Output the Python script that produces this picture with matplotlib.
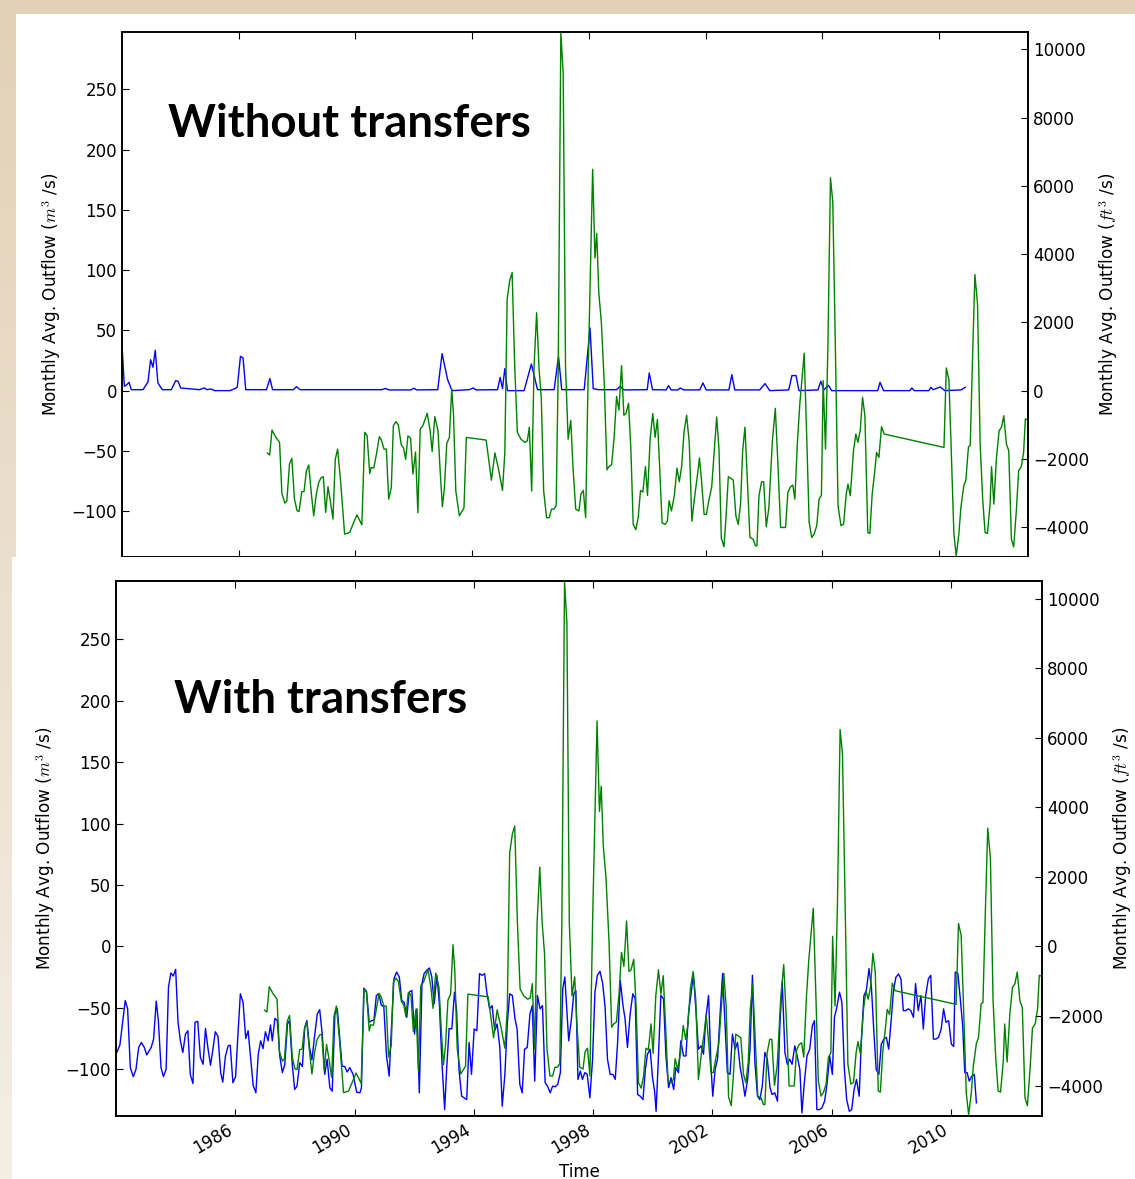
import numpy as np
import matplotlib
matplotlib.use("Agg")
import matplotlib.pyplot as plt
from matplotlib.patches import Rectangle

plt.rcParams['mathtext.fontset'] = 'cm'
plt.rcParams['font.family'] = ['DejaVu Sans']

# ---------------- data (decimal year, m3/s) ----------------
green_t = [1986.98,1987.06,1987.14,1987.26,1987.40,1987.48,1987.58,1987.65,1987.74,1987.82,1987.91,1988.00,1988.07,1988.16,1988.24,1988.32,1988.40,1988.49,1988.57,1988.66,1988.74,1988.83,1988.90,1988.98,1989.06,1989.14,1989.23,1989.31,1989.39,1989.49,1989.63,1989.80,1990.05,1990.22,1990.32,1990.40,1990.49,1990.54,1990.63,1990.72,1990.82,1990.89,1990.98,1991.06,1991.14,1991.23,1991.30,1991.39,1991.47,1991.57,1991.65,1991.72,1991.80,1991.89,1991.97,1992.06,1992.14,1992.22,1992.31,1992.46,1992.56,1992.63,1992.72,1992.83,1992.91,1992.98,1993.05,1993.13,1993.22,1993.30,1993.36,1993.44,1993.56,1993.72,1993.80,1994.48,
           1994.66,1994.78,1994.91,1995.04,1995.12,1995.20,1995.29,1995.37,1995.46,1995.55,1995.67,1995.81,1995.89,1995.96,1996.04,1996.12,1996.21,1996.29,1996.37,1996.45,1996.55,1996.64,1996.72,1996.80,1996.88,1996.95,1997.04,1997.12,1997.20,1997.29,1997.38,1997.46,1997.55,1997.66,1997.73,1997.81,1997.89,1997.98,1998.13,1998.21,1998.27,1998.34,1998.43,1998.53,1998.62,1998.69,1998.78,1998.87,1998.95,1999.03,1999.12,1999.20,1999.27,1999.36,1999.44,1999.52,1999.61,1999.69,1999.77,1999.85,1999.94,2000.01,2000.10,2000.19,2000.27,2000.35,2000.43,2000.51,2000.61,2000.69,2000.75,2000.83,2000.93,2001.02,2001.10,2001.18,2001.26,2001.35,2001.44,2001.53,2001.63,2001.73,2001.79,2001.86,2001.95,2002.03,2002.11,2002.21,2002.30,2002.38,2002.46,2002.54,2002.63,2002.70,2002.78,2002.87,2002.95,2003.04,2003.12,2003.20,2003.27,2003.35,
           2003.52,2003.63,2003.71,2003.76,2003.83,2003.92,2003.99,2004.08,2004.17,2004.29,2004.39,2004.48,2004.57,2004.65,2004.74,2004.82,2004.91,2004.99,2005.06,2005.15,2005.23,2005.38,2005.47,2005.55,2005.64,2005.72,2005.81,2005.89,2005.97,2006.03,2006.11,2006.19,2006.28,2006.36,2006.45,2006.54,2006.64,2006.73,2006.82,2006.88,2006.96,2007.07,2007.15,2007.22,2007.30,2007.38,2007.46,2007.56,2007.63,2007.71,2007.80,2007.86,2007.94,2008.03,2008.12,2010.17,2010.25,2010.34,2010.42,2010.51,2010.59,2010.68,2010.75,2010.85,2010.92,2011.01,2011.07,2011.15,2011.23,2011.32,2011.41,2011.50,2011.58,2011.66,2011.75,2011.80,2011.88,2011.97,2012.06,2012.14,2012.22,2012.31,2012.39,2012.48,2012.56,2012.65,2012.73,2012.82,2012.90,2012.96,2013.05]
green_v = [-51.8,-53.4,-32.7,-38.2,-42.9,-85.3,-93.3,-91.4,-60.9,-56.2,-90,-99.7,-100.2,-83.9,-83.6,-66.4,-61.7,-85.8,-103.8,-85.8,-76.1,-72,-71.4,-101,-79.7,-91.4,-106.6,-56.8,-48.5,-74.8,-119,-117.7,-103,-111.3,-34.6,-37.4,-68.7,-63.7,-64.2,-52.6,-38.2,-41,-48.5,-48.5,-90,-80.3,-29.1,-25.7,-28.5,-44.9,-47.6,-57,-37.6,-39.3,-69.2,-50.9,-101.3,-31.8,-29.1,-18.8,-33.2,-50.4,-21.6,-33.2,-69.2,-96.3,-80.3,-43.8,-38.8,1.4,-19.4,-83,-103.8,-97.4,-38.8,-41,
           -74.3,-51.6,-65.7,-82.8,-51.6,76,91.5,98,19.3,-34.6,-40.2,-43,-41.7,-30.3,-83.3,19.3,64.6,19.3,-6.2,-82.8,-105.4,-105.4,-98.3,-98.3,-95.5,19.3,297,263,19.3,-40.2,-24.7,-65.7,-98.3,-99.8,-85.6,-82.8,-105.4,19.3,183.6,110,130.4,81.6,56,5,-65.7,-63,-61.5,-37.4,-4.8,-16.2,20.7,-20.4,-19,-10.5,-48.7,-111,-115.3,-105.4,-82.8,-84.2,-63,-87,-40.2,-19,-38.8,-23.8,-65.7,-109.7,-111,-108.3,-91.3,-99.8,-87,-64.3,-75.6,-63,-34.6,-20.4,-43,-108.3,-87,-68.6,-55.8,-74.3,-102.6,-102.6,-91.3,-79.9,-48.7,-21.8,-48.7,-122.4,-129.5,-105.4,-71.4,-72.8,-74.3,-104,-111,-94,-50.2,-30.3,
           -121.8,-123.2,-128.7,-128.7,-87.2,-75.6,-75.6,-113,-96.9,-41.5,-14.7,-60.9,-113.5,-113.5,-113.5,-84.4,-79.7,-78.4,-90,-41.5,-11.1,31,-41.5,-109.4,-121.8,-119,-112,-90,-86.7,8.3,-48.4,33.2,176.6,156.4,33.2,-95.5,-112,-110.7,-85.8,-77.5,-87.2,-49.8,-36,-42.9,-33.2,-5.5,-20.8,-117.7,-118.5,-85.8,-66.4,-51.2,-55.4,-29.9,-36,-47.1,18.8,8.9,-49.8,-119,-137,-119,-96.9,-78.9,-74.2,-46.5,-45.7,27.7,96.3,72,-44.3,-91.4,-117.7,-118.5,-94.1,-63.1,-94.1,-55.4,-33.2,-30.5,-20.8,-44.3,-49.8,-123.2,-129.6,-99.7,-66.4,-63.1,-51.2,-23.5,-24.4]

blue_top_t = [1982.0,1982.08,1982.17,1982.24,1982.32,1982.72,1982.89,1982.98,1983.06,1983.14,1983.23,1983.38,1983.69,1983.84,1983.92,1984.01,1984.66,1984.81,1984.92,1985.04,1985.18,1985.70,1985.87,1985.95,1986.06,1986.15,1986.24,1986.95,1987.07,1987.16,1987.87,1987.98,1988.10,1990.90,1991.03,1991.15,1991.90,1992.00,1992.10,1992.82,1992.97,1993.16,1993.31,1993.90,1994.04,1994.13,1994.87,1994.96,1995.04,1995.12,1995.21,1995.78,1996.03,1996.24,1996.81,1996.96,1997.07,1997.84,1998.04,1998.15,1998.32,1998.95,1999.07,1999.20,2000.00,2000.07,2000.18,2000.65,2000.73,2000.82,2001.05,2001.13,2001.25,2001.80,2001.91,2002.02,2002.80,2002.90,2003.00,2003.85,2004.04,2004.20,2004.85,2004.96,2005.10,2005.20,2005.85,2005.95,2006.05,2006.21,2006.32,2007.90,2007.98,2008.10,2009.00,2009.07,2009.15,2009.65,2009.72,2009.80,2010.04,2010.20,2010.75,2010.90]
blue_top_v = [38,3.6,5,6.9,0.8,0.8,7.2,25.7,19.4,33.5,6.4,0.8,0.8,8.3,7.8,2.2,0.8,2.2,0.8,1.4,0,0,1.7,2.8,28.5,27.1,0.8,0.8,10,0.8,0.8,3.3,0.8,0.8,1.8,0.6,0.6,2,0.6,0.8,30.7,9.1,0,0.8,2.2,0.6,0.8,11,1.7,18.3,0,0,22.1,0.8,0.8,28.5,0.8,0.8,52,1.7,0.8,0.8,3.6,0.6,0.8,14.7,0.8,0.6,4.2,0.6,0.6,2.2,0.6,0.6,6.4,0.6,0.6,13.3,0.6,0.6,5.8,0,0.6,12.5,12.5,0,0.6,7.8,0.6,4.4,0,0,6.9,0,0,2.2,0,0,2.8,0.8,3,0,0.6,2.8]

blue_bot_t = [1982.00,1982.13,1982.31,1982.39,1982.48,1982.58,1982.67,1982.76,1982.85,1982.95,1983.03,1983.18,1983.26,1983.35,1983.42,1983.51,1983.59,1983.68,1983.76,1983.84,1983.92,1984.00,1984.08,1984.16,1984.24,1984.33,1984.41,1984.49,1984.58,1984.65,1984.74,1984.83,1984.92,1985.00,1985.08,1985.17,1985.25,1985.33,1985.42,1985.51,1985.58,1985.67,1985.76,1985.83,1985.92,1986.01,1986.09,1986.17,1986.26,1986.35,1986.43,1986.52,1986.60,1986.69,1986.77,1986.85,1986.93,1987.01,1987.10,1987.18,1987.24,1987.33,1987.41,1987.49,1987.58,1987.66,1987.75,1987.82,1987.91,1987.99,1988.07,1988.16,1988.25,1988.33,1988.40,1988.49,1988.57,1988.66,1988.75,1988.83,1988.92,1989.00,1989.08,1989.17,1989.25,1989.34,1989.42,1989.51,1989.58,1989.67,1989.75,1989.84,1989.95,1990.07,1990.18,1990.23,1990.31,1990.40,1990.49,1990.57,1990.65,1990.73,1990.81,1990.90,1990.98,1991.07,1991.16,1991.24,1991.32,1991.41,1991.50,1991.58,1991.66,1991.75,1991.83,1991.92,1992.01,1992.09,1992.17,1992.26,1992.33,1992.42,1992.51,1992.59,1992.67,1992.76,1992.84,1992.93,1993.02,1993.09,1993.17,1993.26,1993.35,1993.42,1993.50,1993.59,1993.67,1993.76,1993.84,1993.92,1994.01,1994.10,1994.19,1994.28,1994.36,1994.44,1994.53,1994.61,1994.70,1994.78,1994.87,1994.95,1995.04,1995.12,1995.20,1995.29,1995.38,1995.45,1995.54,1995.62,1995.70,1995.79,1995.88,1995.96,1996.04,1996.13,1996.22,1996.30,1996.39,1996.47,1996.56,1996.64,1996.73,1996.81,1996.90,1996.98,1997.05,
              1997.18,1997.27,1997.35,1997.42,1997.49,1997.57,1997.64,1997.72,1997.80,1997.89,1997.98,1998.06,1998.14,1998.23,1998.32,1998.40,1998.48,1998.57,1998.66,1998.74,1998.82,1998.91,1999.00,1999.07,1999.15,1999.24,1999.33,1999.41,1999.49,1999.58,1999.67,1999.75,1999.82,1999.91,1999.99,2000.06,2000.11,2000.19,2000.27,2000.36,2000.44,2000.53,2000.61,2000.70,2000.77,2000.86,2000.94,2001.03,2001.11,2001.20,2001.29,2001.36,2001.45,2001.53,2001.62,2001.70,2001.78,2001.87,2001.95,2002.01,2002.09,2002.17,2002.26,2002.34,2002.43,2002.50,2002.59,2002.67,2002.76,2002.84,2002.93,2003.02,2003.09,2003.18,2003.26,2003.34,2003.42,2003.51,2003.59,2003.67,2003.76,2003.84,2003.93,2004.00,2004.09,2004.18,2004.26,2004.34,2004.43,2004.51,2004.59,2004.67,2004.76,2004.84,2004.93,2005.00,2005.08,2005.17,2005.26,2005.35,2005.42,2005.50,2005.59,2005.67,2005.76,2005.84,2005.93,2006.02,2006.09,2006.17,2006.26,2006.34,2006.42,2006.50,2006.59,2006.67,2006.75,2006.83,2006.92,2006.99,2007.08,2007.16,2007.25,2007.33,2007.41,2007.49,2007.58,2007.66,2007.75,2007.83,2007.91,2008.00,2008.07,2008.15,2008.24,2008.32,2008.40,2008.48,2008.57,2008.65,2008.74,2008.81,2008.90,2008.99,2009.07,2009.15,2009.24,2009.32,2009.41,2009.49,2009.58,2009.67,2009.75,2009.83,2009.92,2010.01,2010.09,2010.14,2010.23,2010.31,2010.39,2010.46,2010.54,2010.61,2010.70,2010.78,2010.85]
blue_bot_v = [-87.7,-80.3,-44,-50.8,-98.6,-106,-100,-82.2,-78.1,-82.2,-88.3,-82.2,-75.4,-44.5,-60.4,-98.6,-106,-100,-33.1,-21.6,-24.1,-18.6,-61.7,-76.8,-86.3,-71.3,-68.6,-104.1,-111.5,-61.7,-60.9,-90.4,-95.9,-66.7,-82.2,-96.7,-83.6,-69.4,-73.2,-102.7,-110.4,-89.1,-80.9,-80.3,-110.9,-106,-71.3,-38.5,-45.4,-74.9,-68.6,-91.8,-113.1,-119.1,-87.7,-76.8,-83.1,-69.4,-76.8,-63.9,-76.8,-58.5,-60.4,-89.1,-102.7,-95.9,-63.1,-60.4,-95.9,-116.4,-113.7,-94.5,-97.8,-65.8,-60.4,-82.2,-92.3,-72.7,-54.9,-51.4,-72.7,-104.1,-91.8,-115,-117.8,-54.9,-50.8,-76.8,-97.3,-97.8,-102.2,-98.6,-104.1,-118.6,-119.1,-115,-33.9,-36.6,-61.7,-60.4,-59.8,-39.9,-38.5,-48.1,-48.6,-89.1,-105.5,-64.4,-26.2,-20.8,-24.9,-44,-45.4,-57.7,-37.2,-35.8,-71.3,-50.8,-119.1,-30.3,-22.1,-19.4,-17.5,-24.9,-46.7,-23.5,-45.4,-94.5,-132.8,-98.6,-66.7,-67.2,-37.2,-52.2,-100,-121.9,-123.2,-124.6,-78.1,-104.1,-67.2,-68.6,-22.1,-23.5,-22.1,-38.5,-50.8,-48.1,-68.6,-63.1,-82.2,-130,-104.1,-63.1,-38.5,-39.9,-59,-67.2,-112.3,-119.1,-83.6,-82.2,-54.9,-48.1,-109.6,-39.9,-50.8,-48.1,-110.9,-113.7,-119.1,-113.7,-114.2,-112.3,-102.7,-34.4,-24.9,
              -76.8,-59,-38.5,-35.8,-108.2,-101.4,-108.2,-102.7,-104.1,-123.2,-91.8,-37.2,-23.5,-20.2,-30.3,-49.5,-91.8,-104.1,-104.1,-108.2,-78.1,-27.6,-48.1,-59,-82.2,-54.9,-38.5,-42.6,-120.5,-121.9,-124.6,-100,-87.7,-83.6,-106.8,-117.8,-134.2,-89.1,-39.9,-42.6,-89.1,-115,-106.8,-116.4,-98.6,-102.7,-76.8,-89.1,-89.1,-53.6,-37.2,-22.1,-53.6,-83.6,-80.9,-87.7,-57.7,-39.9,-97.3,-121.9,-100,-91.8,-53.6,-22.1,-67.2,-102.7,-104.1,-71.3,-83.6,-78.1,-98.6,-110.4,-121.9,-108.2,-83.6,-23.5,-93.2,-121.9,-124.6,-113.7,-86.3,-91.8,-115,-120.5,-119.1,-125.9,-64.4,-28.9,-86.3,-95.9,-91.8,-95.9,-80.9,-89.1,-100,-135.5,-110.9,-89.1,-83.6,-64.4,-60.4,-132.8,-132.8,-131.4,-125.9,-112.3,-89.1,-104.1,-57.7,-49.5,-37.2,-45.4,-98.6,-124.6,-134.2,-132.8,-116.4,-108.2,-121.9,-78.1,-39.9,-35.8,-18,-33.1,-68.6,-100,-104.1,-79.5,-75.4,-74,-83.6,-57.7,-35.8,-25.1,-22.4,-26.6,-52.2,-52.2,-50.8,-52.2,-57.7,-30.3,-52.2,-39.9,-67.2,-39.9,-26.2,-23.5,-75.4,-75.4,-74,-67.2,-50.8,-61.7,-60.4,-79.5,-81.4,-20.8,-22.1,-42.6,-64.4,-102.7,-102.7,-109.6,-105.5,-104.1,-127.3]

year_ticks = [1986, 1990, 1994, 1998, 2002, 2006, 2010]
m3_ticks = [-100, -50, 0, 50, 100, 150, 200, 250]
cfs_ticks = [-4000, -2000, 0, 2000, 4000, 6000, 8000, 10000]
panel_titles = ["Without transfers", "With transfers"]
CFS = 35.3147

W, H = 1135, 1179
fig = plt.figure(figsize=(W / 100, H / 100), dpi=100)

def fr(x0, y0, x1, y1):
    """pixel box (top-left origin) -> figure fraction rect"""
    return [x0 / W, 1 - y1 / H, (x1 - x0) / W, (y1 - y0) / H]

# background gradient (slide)
bg = fig.add_axes([0, 0, 1, 1], zorder=-10)
grad = np.linspace(0, 1, 256)[:, None]
c_top = np.array([226, 209, 183]) / 255
c_bot = np.array([244, 238, 229]) / 255
img = c_top[None, None, :] * (1 - grad[:, :, None]) + c_bot[None, None, :] * grad[:, :, None]
bg.imshow(np.repeat(img, 4, axis=1), aspect='auto', extent=[0, 1, 0, 1])
bg.set_axis_off()

fig.add_artist(Rectangle((16 / W, 1 - 557 / H), 1, (557 - 14) / H, transform=fig.transFigure,
                         facecolor='white', edgecolor='none', zorder=-5))
fig.add_artist(Rectangle((12 / W, 0), 1, 1 - 557 / H, transform=fig.transFigure,
                         facecolor='white', edgecolor='none', zorder=1))

XLIM = (1982.0, 2013.05)
YLIM = (-138.0, 297.5)


def setup(ax, blue_t, blue_v, show_xlabels, z):
    ax.set_zorder(z)
    ax.plot(blue_t, blue_v, color='b', lw=1.0)
    ax.set_xlim(*XLIM)
    ax.set_ylim(*YLIM)
    ax.set_xticks(year_ticks)
    ax.set_yticks(m3_ticks)
    ax.tick_params(direction='in', length=5, width=0.8, labelsize=12, top=True)
    for s in ax.spines.values():
        s.set_linewidth(1.2)
    ax.set_ylabel('Monthly Avg. Outflow ($m^3$ /s)', fontsize=12.2, labelpad=6)
    if show_xlabels:
        ax.set_xticklabels([str(t) for t in year_ticks], rotation=30, ha='right')
        ax.set_xlabel('Time', fontsize=12)
    else:
        ax.tick_params(labelbottom=False)
    tw = ax.twinx()
    tw.set_zorder(z + 0.1)
    tw.plot(green_t, np.array(green_v) * CFS, color='g', lw=1.0)
    tw.set_xlim(*XLIM)
    tw.set_ylim(YLIM[0] * CFS, YLIM[1] * CFS)
    tw.set_yticks(cfs_ticks)
    tw.tick_params(direction='in', length=5, width=0.8, labelsize=12)
    tw.set_ylabel('Monthly Avg. Outflow ($ft^3$ /s)', fontsize=12.2, labelpad=6)
    for s in tw.spines.values():
        s.set_linewidth(1.2)
    return tw


ax1 = fig.add_axes(fr(122, 32, 1028, 557))
setup(ax1, blue_top_t, blue_top_v, False, 0)
ax2 = fig.add_axes(fr(116, 581, 1042, 1116))
setup(ax2, blue_bot_t, blue_bot_v, True, 2)

fig.text(168 / W, 1 - 137 / H, panel_titles[0], fontsize=32.9, fontweight='bold',
         family=['Lato', 'DejaVu Sans'], va='baseline', ha='left', zorder=5)
fig.text(174 / W, 1 - 713 / H, panel_titles[1], fontsize=32.8, fontweight='bold',
         family=['Lato', 'DejaVu Sans'], va='baseline', ha='left', zorder=5)

fig.savefig('out.png', dpi=100)
